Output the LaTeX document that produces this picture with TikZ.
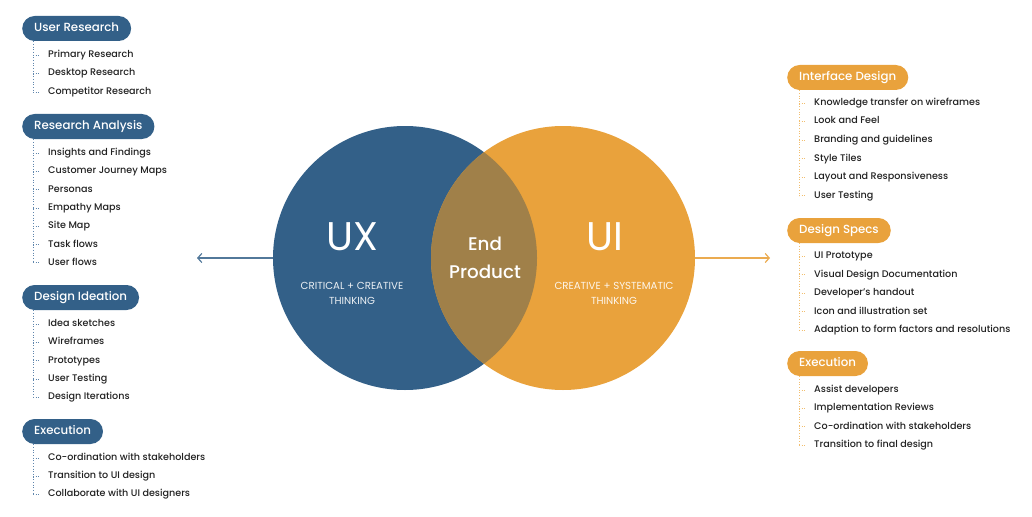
\documentclass[tikz,border=0pt]{standalone}
\usepackage{fontspec}
\setmainfont{Poppins}
\newfontfamily\pmed{Poppins Medium}
\usetikzlibrary{arrows.meta}
\definecolor{uxblue}{HTML}{336088}
\definecolor{uiorange}{HTML}{E9A23C}
\definecolor{overlapc}{HTML}{A08049}
\definecolor{itemtext}{HTML}{222222}
\definecolor{bluedot}{HTML}{5F86AD}
\definecolor{orangedot}{HTML}{F2BE6E}
\begin{document}
\begin{tikzpicture}[x=1pt,y=-1pt,
  pill/.style={rounded corners=12.5pt, minimum height=25pt, inner xsep=12pt, inner ysep=0pt,
    text=white, anchor=west, font=\pmed\fontsize{11.8}{14}\selectfont, text height=9pt, text depth=2.5pt},
  bluepill/.style={pill, fill=uxblue},
  orangepill/.style={pill, fill=uiorange},
  item/.style={anchor=west, inner sep=0pt, text=itemtext, font=\pmed\fontsize{9.6}{11}\selectfont,
    text height=7pt, text depth=2pt},
  bdot/.style={draw=bluedot, dotted, line width=0.7pt},
  odot/.style={draw=orangedot, dotted, line width=0.7pt},
  big/.style={text=white, font=\fontsize{40}{44}\selectfont},
  mid/.style={text=white, font=\pmed\fontsize{18.3}{28}\selectfont, align=center},
  small/.style={text=white, opacity=0.9, font=\fontsize{10.2}{15}\selectfont, align=center},
  arr/.style={line width=1.2pt, -{Straight Barb[length=4pt,width=9pt]}}
]
\useasboundingbox (0,0) rectangle (1032,516);

% circles
\node[circle, minimum size=264pt, inner sep=0pt, fill=uxblue] (ux) at (405,258) {};
\node[circle, minimum size=264pt, inner sep=0pt, fill=uiorange] (ui) at (563,258) {};
\begin{scope}
  \clip (405,258) circle (132pt);
  \fill[overlapc] (563,258) circle (132pt);
\end{scope}

\node[big] (uxt) at (352,237) {UX};
\node[big] (uit) at (605,237) {UI};
\node[mid] (endp) at (485,258) {End\\Product};
\node[small] (uxs) at (352,293) {CRITICAL + CREATIVE\\THINKING};
\node[small] (uis) at (614,293) {CREATIVE + SYSTEMATIC\\THINKING};

\coordinate (la) at (197,258);
\coordinate (ra) at (770,258);
\draw[arr, draw=uxblue!85!white] (ux.west) -- (la);
\draw[arr, draw=uiorange!90!white] (ui.east) -- (ra);

% ---------- left column ----------
\node[bluepill] (p1) at (22,28.5) {User Research};
\foreach \t [count=\i] in {Primary Research, Desktop Research, Competitor Research}
  \node[item] (a\i) at (48,{55+(\i-1)*18.5}) {\t};

\node[bluepill] (p2) at (22,126.5) {Research Analysis};
\foreach \t [count=\i] in {Insights and Findings, Customer Journey Maps, Personas, Empathy Maps, Site Map, Task flows, User flows}
  \node[item] (b\i) at (48,{153+(\i-1)*18.3}) {\t};

\node[bluepill] (p3) at (22,297.5) {Design Ideation};
\foreach \t [count=\i] in {Idea sketches, Wireframes, Prototypes, User Testing, Design Iterations}
  \node[item] (c\i) at (48,{324+(\i-1)*18.3}) {\t};

\node[bluepill] (p4) at (22,431.5) {Execution};
\foreach \t [count=\i] in {Co-ordination with stakeholders, Transition to UI design, Collaborate with UI designers}
  \node[item] (d\i) at (48,{458+(\i-1)*18.2}) {\t};

\draw[bdot] (p1.south -| 33,0) -- (33,0 |- a3.west);
\foreach \i in {1,2,3} \draw[bdot] (33,0 |- a\i.west) -- ([xshift=-7pt]a\i.west);
\draw[bdot] (p2.south -| 33,0) -- (33,0 |- b7.west);
\foreach \i in {1,...,7} \draw[bdot] (33,0 |- b\i.west) -- ([xshift=-7pt]b\i.west);
\draw[bdot] (p3.south -| 33,0) -- (33,0 |- c5.west);
\foreach \i in {1,...,5} \draw[bdot] (33,0 |- c\i.west) -- ([xshift=-7pt]c\i.west);
\draw[bdot] (p4.south -| 33,0) -- (33,0 |- d3.west);
\foreach \i in {1,2,3} \draw[bdot] (33,0 |- d\i.west) -- ([xshift=-7pt]d\i.west);

% ---------- right column ----------
\node[orangepill] (q1) at (787,77.5) {Interface Design};
\foreach \t [count=\i] in {Knowledge transfer on wireframes, Look and Feel, Branding and guidelines, Style Tiles, Layout and Responsiveness, User Testing}
  \node[item] (e\i) at (814,{103+(\i-1)*18.5}) {\t};

\node[orangepill] (q2) at (787,230.5) {Design Specs};
\foreach \t [count=\i] in {UI Prototype, Visual Design Documentation, Developer’s handout, Icon and illustration set, Adaption to form factors and resolutions}
  \node[item] (f\i) at (814,{256+(\i-1)*18.5}) {\t};

\node[orangepill] (q3) at (787,363.5) {Execution};
\foreach \t [count=\i] in {Assist developers, Implementation Reviews, Co-ordination with stakeholders, Transition to final design}
  \node[item] (g\i) at (814,{390+(\i-1)*18.4}) {\t};

\draw[odot] (q1.south -| 799,0) -- (799,0 |- e6.west);
\foreach \i in {1,...,6} \draw[odot] (799,0 |- e\i.west) -- ([xshift=-7pt]e\i.west);
\draw[odot] (q2.south -| 799,0) -- (799,0 |- f5.west);
\foreach \i in {1,...,5} \draw[odot] (799,0 |- f\i.west) -- ([xshift=-7pt]f\i.west);
\draw[odot] (q3.south -| 799,0) -- (799,0 |- g4.west);
\foreach \i in {1,...,4} \draw[odot] (799,0 |- g\i.west) -- ([xshift=-7pt]g\i.west);
\end{tikzpicture}
\end{document}
